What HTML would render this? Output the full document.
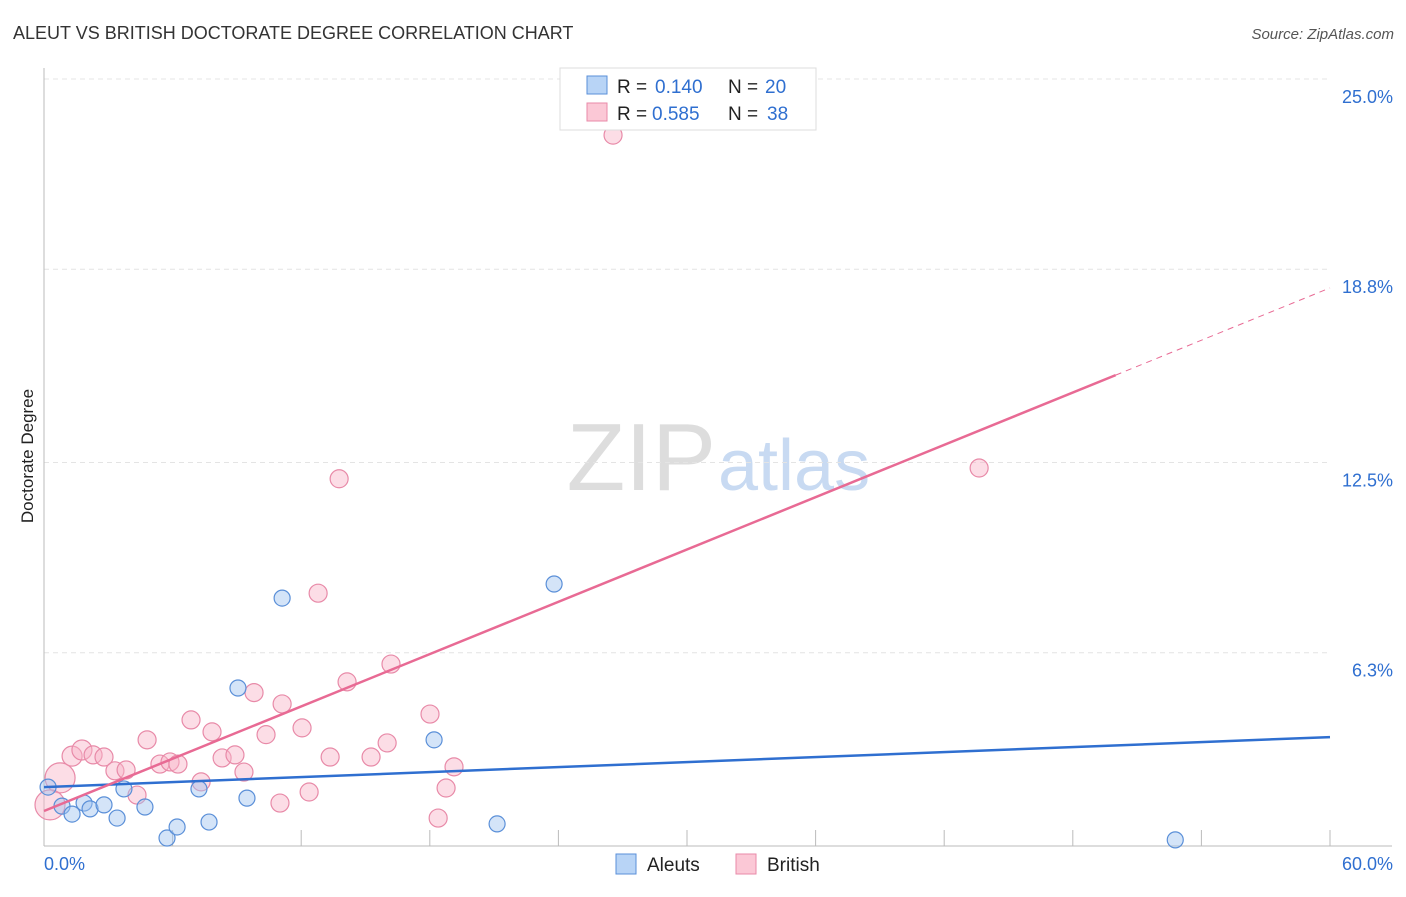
<!DOCTYPE html>
<html><head><meta charset="utf-8"><style>
body{margin:0;background:#fff;font-family:"Liberation Sans",sans-serif}
svg text{font-family:"Liberation Sans",sans-serif}
</style></head><body>
<svg id="c" width="1406" height="892">
<text x="13" y="39" font-size="18" fill="#333">ALEUT VS BRITISH DOCTORATE DEGREE CORRELATION CHART</text>
<text x="1394" y="39" font-size="15" fill="#555" font-style="italic" text-anchor="end">Source: ZipAtlas.com</text>
<text x="33" y="456" font-size="17" fill="#222" text-anchor="middle" transform="rotate(-90 33 456)">Doctorate Degree</text>
<text x="716" y="490" font-size="96" fill="#ddd" text-anchor="end" font-family="Liberation Serif">ZIP</text>
<text x="718" y="490" font-size="72" fill="#c8daf2">atlas</text>
<g id="grid"></g><g id="pts"></g><g id="lines"></g>
<g>
<rect x="560" y="68" width="256" height="62" fill="#fff" stroke="#ddd"/>
<rect x="587" y="76" width="20" height="18" fill="#b8d4f6" stroke="#5a8fd8"/>
<rect x="587" y="103" width="20" height="18" fill="#fbc8d6" stroke="#e88aa8"/>
<text x="617" y="93" font-size="19" fill="#222">R =</text>
<text x="655" y="93" font-size="19" fill="#2f6fd0">0.140</text>
<text x="728" y="93" font-size="19" fill="#222">N =</text>
<text x="765" y="93" font-size="19" fill="#2f6fd0">20</text>
<text x="617" y="120" font-size="19" fill="#222">R =</text>
<text x="652" y="120" font-size="19" fill="#2f6fd0">0.585</text>
<text x="728" y="120" font-size="19" fill="#222">N =</text>
<text x="767" y="120" font-size="19" fill="#2f6fd0">38</text>
</g>
<g>
<rect x="616" y="854" width="20" height="20" fill="#b8d4f6" stroke="#5a8fd8"/>
<text x="647" y="871" font-size="19" fill="#222">Aleuts</text>
<rect x="736" y="854" width="20" height="20" fill="#fbc8d6" stroke="#e88aa8"/>
<text x="767" y="871" font-size="19" fill="#222">British</text>
</g>
</svg>
<script>
const yTicks=[25.0,18.8,12.5,6.3];
const yTickLabels=["25.0%","18.8%","12.5%","6.3%"];
const xTickLabels=["0.0%","60.0%"];
const aleutX=[0.19,0.84,1.31,1.87,2.15,2.8,3.41,3.73,4.71,5.74,6.21,7.23,7.7,9.05,9.47,11.11,18.2,21.14,23.8,52.78];
const aleutY=[1.92,1.3,1.04,1.4,1.21,1.34,0.91,1.86,1.27,0.26,0.62,1.86,0.78,5.15,1.56,8.08,3.46,0.72,8.54,0.2];
const britX=[0.75,0.28,1.31,1.77,2.29,2.8,3.31,3.83,4.34,4.81,5.41,5.88,6.25,6.86,7.33,7.84,8.31,8.91,9.33,9.8,10.36,11.01,11.11,12.04,12.37,12.79,13.35,13.77,14.14,15.26,16.01,16.19,18.01,18.39,18.76,19.13,26.55,43.63];
const britY=[2.22,1.34,2.93,3.13,2.97,2.9,2.45,2.48,1.66,3.46,2.67,2.74,2.67,4.11,2.09,3.72,2.87,2.97,2.41,5.0,3.63,1.4,4.63,3.85,1.76,8.24,2.9,11.97,5.35,2.9,3.36,5.93,4.3,0.91,1.89,2.58,23.17,12.32];
const britR=[15,15,10,10,9,9,9,9,9,9,9,9,9,9,9,9,9,9,9,9,9,9,9,9,9,9,9,9,9,9,9,9,9,9,9,9,9,9];
const aleutTrend=[1.92,3.55];
const britTrend=[1.14,18.19];
const X=v=>44+v*(1286/60), Y=v=>846-v*30.68;
const NS="http://www.w3.org/2000/svg";
function mk(t,a,p){const e=document.createElementNS(NS,t);for(const k in a)e.setAttribute(k,a[k]);p.appendChild(e);return e;}
const g=document.getElementById('grid');
yTicks.forEach((t,i)=>{
 const l=mk('line',{x1:44,x2:1330,y1:Y(t),y2:Y(t),stroke:'#e4e4e4','stroke-dasharray':'5,4'},g);
 
 
 const tx=mk('text',{x:1393,y:Y(t)+24,'font-size':18,fill:'#2f6fd0','text-anchor':'end'},g);
 tx.textContent=yTickLabels[i];
 
 
});
const ax=mk('line',{x1:44,x2:44,y1:68,y2:846,stroke:'#bbb'},g);


const bx=mk('line',{x1:44,x2:1392,y1:846,y2:846,stroke:'#bbb'},g);


for(let i=0;i<=10;i++){const t=mk('line',{x1:X(i*6),x2:X(i*6),y1:830,y2:846,stroke:'#bbb'},g);
 
 }
[[0,'start',44],[60,'end',1393]].forEach((d,i)=>{const t=mk('text',{x:d[2],y:870,'font-size':18,fill:'#2f6fd0','text-anchor':d[1]},g);t.textContent=xTickLabels[i];
 
 });
const p=document.getElementById('pts');
britX.forEach((x,i)=>{const c=mk('circle',{cx:X(x),cy:Y(britY[i]),r:britR[i],fill:'rgba(248,180,200,0.45)',stroke:'#e88aa8','stroke-width':1.2},p);
 
 });
aleutX.forEach((x,i)=>{const c=mk('circle',{cx:X(x),cy:Y(aleutY[i]),r:8,fill:'rgba(160,196,240,0.45)',stroke:'#5a8fd8','stroke-width':1.2},p);
 
 });
const L=document.getElementById('lines');
const bt=mk('line',{x1:X(0),y1:Y(aleutTrend[0]),x2:X(60),y2:Y(aleutTrend[1]),stroke:'#2f6fd0','stroke-width':2.5},L);


const bm=britTrend[0]+(britTrend[1]-britTrend[0])*50/60;
const pt=mk('line',{x1:X(0),y1:Y(britTrend[0]),x2:X(50),y2:Y(bm),stroke:'#e86a94','stroke-width':2.5},L);


const pd=mk('line',{x1:X(50),y1:Y(bm),x2:X(60),y2:Y(britTrend[1]),stroke:'#e86a94','stroke-width':1,'stroke-dasharray':'6,5'},L);


</script>
</body></html>
